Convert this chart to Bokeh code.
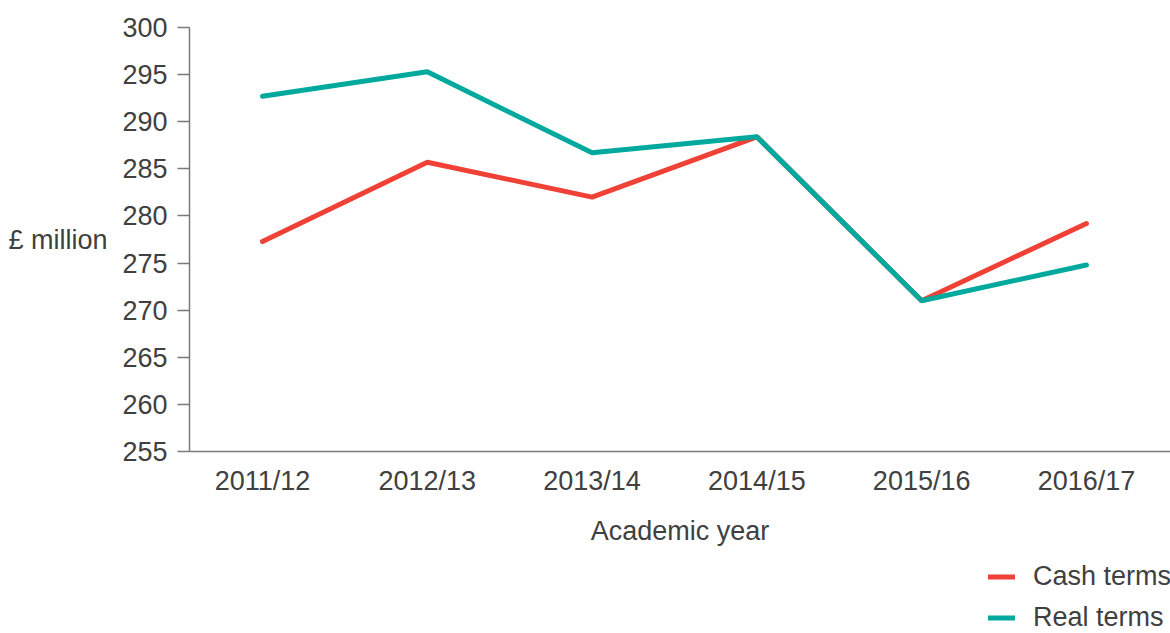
from bokeh.plotting import figure
from bokeh.layouts import column
from bokeh.models import FixedTicker, Legend, LegendItem, Range1d
from bokeh.embed import file_html
from bokeh.resources import INLINE

years = ["2011/12", "2012/13", "2013/14", "2014/15", "2015/16", "2016/17"]
cash_terms = [277.3, 285.7, 282.0, 288.4, 271.0, 279.2]
real_terms = [292.7, 295.3, 286.7, 288.4, 271.0, 274.8]
y_ticks = [255, 260, 265, 270, 275, 280, 285, 290, 295, 300]
series_names = ["Cash terms", "Real terms"]
series_colors = ["#EF4136", "#00A99D"]

FONT = "Liberation Sans"
FS = "27px"
TXT = "#404040"
AX = "#7a7a7a"

xs = list(range(len(years)))

p = figure(width=1170, height=555, output_backend="svg", toolbar_location=None,
           x_range=Range1d(-0.443, 5.51), y_range=Range1d(255, 300),
           min_border_left=189, min_border_right=0, min_border_top=27, min_border_bottom=104)
p.outline_line_color = None
p.xgrid.visible = False
p.ygrid.visible = False

p.line(xs, cash_terms, line_color=series_colors[0], line_width=5, line_cap="round")
p.line(xs, real_terms, line_color=series_colors[1], line_width=5, line_cap="round")

p.xaxis.ticker = FixedTicker(ticks=xs)
p.xaxis.major_label_overrides = {i: y for i, y in enumerate(years)}
p.xaxis.major_tick_line_color = None
p.xaxis.minor_tick_line_color = None
p.xaxis.major_label_standoff = 8
p.xaxis.axis_label = "Academic year"
p.xaxis.axis_label_standoff = 17

p.yaxis.ticker = FixedTicker(ticks=y_ticks)
p.yaxis.minor_tick_line_color = None
p.yaxis.major_tick_out = 12
p.yaxis.major_tick_in = 0
p.yaxis.major_tick_line_color = AX
p.yaxis.major_tick_line_width = 1.5
p.yaxis.major_label_standoff = 10
p.yaxis.axis_label = "£ million"
p.yaxis.axis_label_orientation = "horizontal"
p.yaxis.axis_label_standoff = 12

for ax in (p.xaxis, p.yaxis):
    ax.axis_line_color = AX
    ax.axis_line_width = 1.5
    ax.major_label_text_font = FONT
    ax.major_label_text_font_size = FS
    ax.major_label_text_color = TXT
    ax.axis_label_text_font = FONT
    ax.axis_label_text_font_size = FS
    ax.axis_label_text_font_style = "normal"
    ax.axis_label_text_color = TXT

# legend strip below the chart (its frame is aligned with the chart's frame)
p2 = figure(width=1170, height=78, output_backend="svg", toolbar_location=None,
            x_range=Range1d(0, 1), y_range=Range1d(0, 1), title=None,
            min_border_left=0, min_border_right=0, min_border_top=0, min_border_bottom=0)
p2.axis.visible = False
p2.xgrid.visible = False
p2.ygrid.visible = False
p2.outline_line_color = None

items = []
for name, col in zip(series_names, series_colors):
    r = p2.line([0, 0], [-5, -5], line_color=col, line_width=5, line_cap="round")
    items.append(LegendItem(label=name, renderers=[r]))

legend = Legend(items=items, location=(799, 0), orientation="vertical")
legend.border_line_color = None
legend.background_fill_alpha = 0
legend.padding = 0
legend.margin = 0
legend.spacing = 10
legend.glyph_width = 27
legend.glyph_height = 25
legend.label_height = 25
legend.label_standoff = 18
legend.label_text_font = FONT
legend.label_text_font_size = FS
legend.label_text_color = TXT
p2.add_layout(legend, "center")

layout = column(p, p2, spacing=0)
open("out.html", "w").write(file_html(layout, INLINE))
